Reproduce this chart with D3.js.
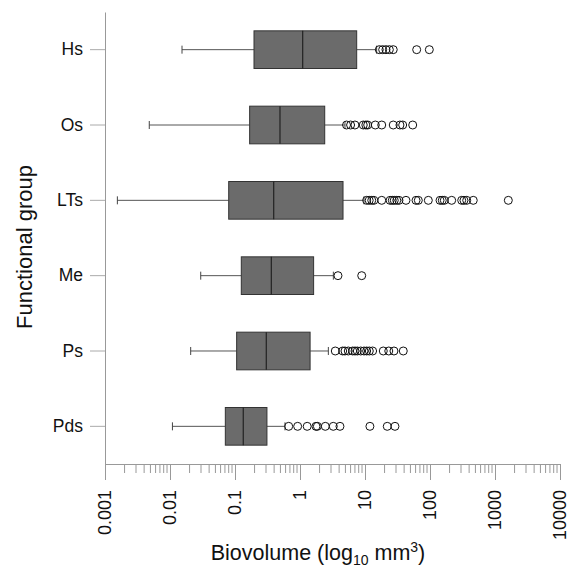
<!DOCTYPE html>
<html>
<head>
<meta charset="utf-8">
<script src="https://cdn.jsdelivr.net/npm/d3@7"></script>
<style>
  body { margin: 0; background: #fff; }
  text { font-family: "Liberation Sans", Arial, sans-serif; fill: #111; }
</style>
</head>
<body>
<div id="chart"></div>
<script>
// Functional groups, top to bottom
const groups = ["Hs", "Os", "LTs", "Me", "Ps", "Pds"];

// five-number summaries: [lowWhisker, q1, median, q3, highWhisker]
const hsStats  = [0.0153, 0.196, 1.10, 7.45, 15.1];
const osStats  = [0.0048, 0.168, 0.492, 2.40, 4.92];
const ltsStats = [0.00155, 0.080, 0.394, 4.59, 9.66];
const meStats  = [0.0297, 0.125, 0.362, 1.62, 3.26];
const psStats  = [0.0208, 0.106, 0.303, 1.43, 2.73];
const pdsStats = [0.0109, 0.071, 0.134, 0.31, 0.587];

// outliers
const hsOut  = [16.6, 18.7, 21.0, 23.7, 27.2, 62.4, 97.6];
const osOut  = [5.2, 6.0, 7.0, 9.4, 10.3, 11.0, 14.4, 18.1, 27.2, 34.5, 38.0, 54.2];
const ltsOut = [10.6, 11.6, 12.7, 13.7, 18.1, 24.3, 26.3, 28.2, 30.8, 33.3, 42.7, 60.9, 66.1,
                94.2, 142.6, 154.5, 166, 215.6, 307.3, 333, 367, 463, 1603];
const meOut  = [3.84, 8.9];
const psOut  = [3.49, 4.54, 4.92, 5.53, 6.47, 7.02, 7.62, 8.59, 9.66, 10.6, 11.65, 13.1,
                19.1, 23.2, 27.9, 38.8];
const pdsOut = [0.67, 0.92, 1.29, 1.76, 1.85, 2.45, 3.25, 4.12, 11.9, 22.0, 28.9];

const xTicks = [0.001, 0.01, 0.1, 1, 10, 100, 1000, 10000];

const stats = [hsStats, osStats, ltsStats, meStats, psStats, pdsStats];
const outs = [hsOut, osOut, ltsOut, meOut, psOut, pdsOut];
const data = groups.map((g, i) => ({
  group: g,
  lo: stats[i][0], q1: stats[i][1], med: stats[i][2], q3: stats[i][3], hi: stats[i][4],
  out: outs[i]
}));

const svgWidth = 568;
const svgHeight = 567;

const svg = d3.select("#chart")
  .append("svg")
  .attr("width", svgWidth)
  .attr("height", svgHeight);

const x = d3.scaleLog()
  .domain([0.001, 10000])
  .range([105, 560]);

const y = d3.scaleBand()
  .domain(groups)
  .range([12, 464])
  .paddingInner(0.5)
  .paddingOuter(0.25);

// minor ticks 2..9 per decade
const minorTicks = [];
xTicks.slice(0, -1).forEach(t => {
  for (let k = 2; k <= 9; k++) minorTicks.push(t * k);
});

// x axis
const xAxis = svg.append("g")
  .attr("transform", "translate(0,464)")
  .call(d3.axisBottom(x).tickValues(xTicks).tickSize(16).tickFormat(d => String(d)));
xAxis.select(".domain").attr("stroke", "#999");
xAxis.selectAll(".tick line").attr("stroke", "#999");
xAxis.selectAll(".tick text")
  .attr("transform", "rotate(-90)")
  .attr("text-anchor", "end")
  .attr("x", -26)
  .attr("y", 0)
  .attr("dy", "0.33em")
  .style("font-size", "18px")
  .style("font-family", "Liberation Sans, Arial, sans-serif")
  .attr("fill", "#111");

svg.append("g")
  .selectAll("line")
  .data(minorTicks)
  .enter()
  .append("line")
  .attr("x1", d => x(d))
  .attr("x2", d => x(d))
  .attr("y1", 464)
  .attr("y2", 473)
  .attr("stroke", "#999");

// y axis
const yAxis = svg.append("g")
  .attr("transform", "translate(105,0)")
  .call(d3.axisLeft(y).tickSize(15).tickPadding(7).tickSizeOuter(0));
yAxis.select(".domain").attr("stroke", "#999");
yAxis.selectAll(".tick line").attr("stroke", "#aaa");
yAxis.selectAll(".tick text")
  .style("font-size", "17.5px")
  .style("font-family", "Liberation Sans, Arial, sans-serif")
  .attr("fill", "#111");

// boxes
const boxG = svg.append("g")
  .selectAll("g")
  .data(data)
  .enter()
  .append("g")
  .attr("transform", d => `translate(0,${y(d.group)})`);

const bw = y.bandwidth();

// whiskers
boxG.append("line")
  .attr("x1", d => x(d.lo)).attr("x2", d => x(d.q1))
  .attr("y1", bw / 2).attr("y2", bw / 2)
  .attr("stroke", "#555");
boxG.append("line")
  .attr("x1", d => x(d.q3)).attr("x2", d => x(d.hi))
  .attr("y1", bw / 2).attr("y2", bw / 2)
  .attr("stroke", "#555");
// caps
boxG.append("line")
  .attr("x1", d => x(d.lo)).attr("x2", d => x(d.lo))
  .attr("y1", bw / 2 - 4).attr("y2", bw / 2 + 4)
  .attr("stroke", "#444");
boxG.append("line")
  .attr("x1", d => x(d.hi)).attr("x2", d => x(d.hi))
  .attr("y1", bw / 2 - 4).attr("y2", bw / 2 + 4)
  .attr("stroke", "#444");

boxG.append("rect")
  .attr("x", d => x(d.q1))
  .attr("y", 0)
  .attr("width", d => x(d.q3) - x(d.q1))
  .attr("height", bw)
  .attr("fill", "#6b6b6b")
  .attr("stroke", "#333")
  .attr("stroke-width", 1);

boxG.append("line")
  .attr("x1", d => x(d.med)).attr("x2", d => x(d.med))
  .attr("y1", 0).attr("y2", bw)
  .attr("stroke", "#222")
  .attr("stroke-width", 1.2);

// outliers
boxG.selectAll("circle")
  .data(d => d.out)
  .enter()
  .append("circle")
  .attr("cx", d => x(d))
  .attr("cy", bw / 2)
  .attr("r", 4)
  .attr("fill", "none")
  .attr("stroke", "#111")
  .attr("stroke-width", 1);

// axis titles
const xTitle = svg.append("text")
  .attr("x", 318)
  .attr("y", 560)
  .attr("text-anchor", "middle")
  .style("font-size", "21.5px");
xTitle.append("tspan").text("Biovolume (log");
xTitle.append("tspan").attr("dy", 5).style("font-size", "14px").text("10");
xTitle.append("tspan").attr("dy", -5).text(" mm");
xTitle.append("tspan").attr("dy", -8).style("font-size", "14px").text("3");
xTitle.append("tspan").attr("dy", 8).text(")");

svg.append("text")
  .attr("transform", "translate(32,247) rotate(-90)")
  .attr("text-anchor", "middle")
  .style("font-size", "22px")
  .text("Functional group");
</script>
</body>
</html>
